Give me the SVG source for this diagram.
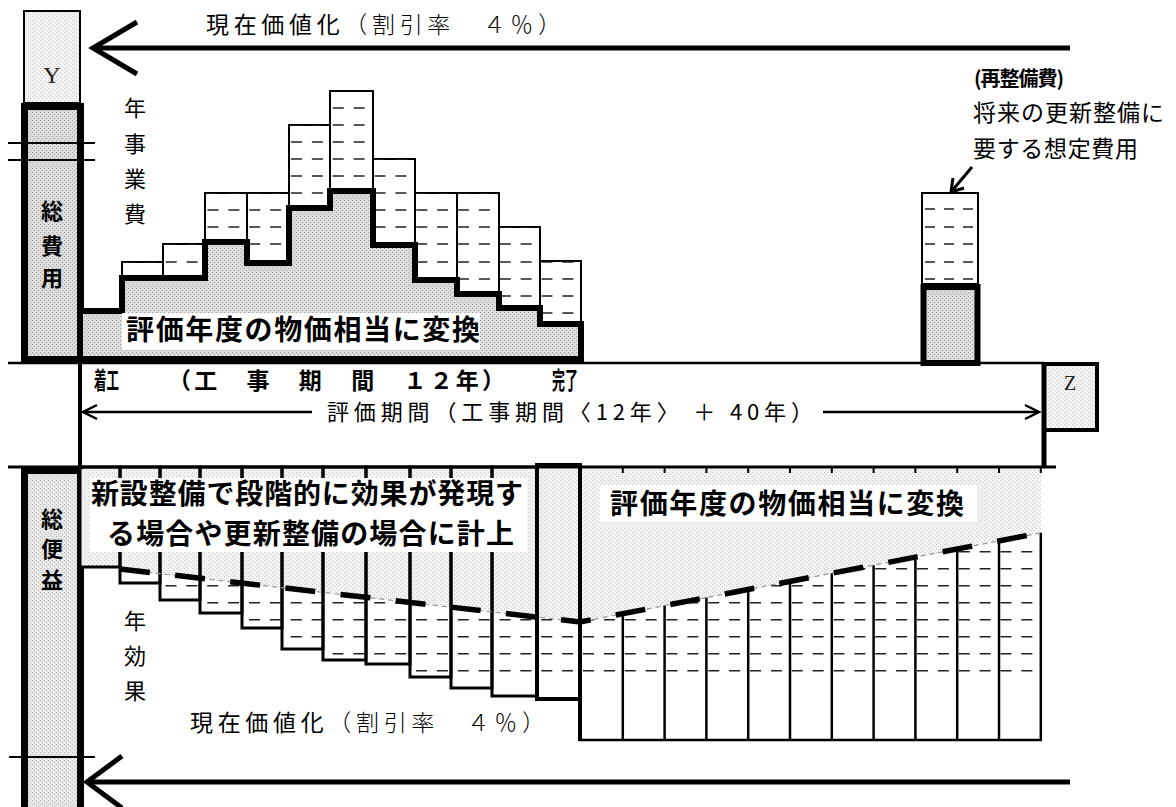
<svg xmlns="http://www.w3.org/2000/svg" width="1176" height="807" viewBox="0 0 1176 807">
<style>
.t{font-family:"Noto Sans CJK JP","Noto Sans",sans-serif;fill:#000}
.b{font-weight:bold}
.s{font-family:"Liberation Serif","DejaVu Serif",serif;fill:#222}
.ln{stroke:#000;fill:none}
.box{stroke:#000;stroke-width:2;fill:#fff}
.bar{stroke:#000;stroke-width:3;fill:none}
.dash{stroke:#222;stroke-width:1.6;stroke-dasharray:11 9.875;fill:none}
</style>
<defs>
<pattern id="pd" width="4" height="4" patternUnits="userSpaceOnUse"><rect width="4" height="4" fill="#dcdcdc"/><rect width="1" height="1" fill="#a0a0a0"/><rect x="2" y="2" width="1" height="1" fill="#a0a0a0"/></pattern>
<pattern id="pl" width="4" height="4" patternUnits="userSpaceOnUse"><rect width="4" height="4" fill="#f3f3f3"/><rect width="1" height="1" fill="#c6c6c6"/><rect x="2" y="2" width="1" height="1" fill="#c6c6c6"/></pattern>
<pattern id="pm" width="4" height="4" patternUnits="userSpaceOnUse"><rect width="4" height="4" fill="#e8e8e8"/><rect width="1" height="1" fill="#b4b4b4"/><rect x="2" y="2" width="1" height="1" fill="#b4b4b4"/></pattern>
<clipPath id="topClip">
<rect x="122" y="262" width="41" height="97"/><rect x="163" y="244" width="42" height="115"/><rect x="205" y="193" width="42" height="166"/><rect x="247" y="193" width="42" height="166"/><rect x="289" y="125" width="41" height="234"/><rect x="330" y="91" width="43" height="268"/><rect x="373" y="159" width="42" height="200"/><rect x="415" y="193" width="42" height="166"/><rect x="457" y="193" width="42" height="166"/><rect x="499" y="227" width="41" height="132"/><rect x="540" y="261" width="41" height="98"/>
</clipPath>
<clipPath id="lowClip">
<rect x="80" y="467" width="40" height="100"/><rect x="120" y="467" width="40" height="116"/><rect x="160" y="467" width="40" height="133"/><rect x="200" y="467" width="42" height="146"/><rect x="242" y="467" width="40" height="161"/><rect x="282" y="467" width="41" height="182"/><rect x="323" y="467" width="43" height="193"/><rect x="366" y="467" width="44" height="197"/><rect x="410" y="467" width="41" height="210"/><rect x="451" y="467" width="41" height="221"/><rect x="492" y="467" width="45" height="229"/><rect x="537" y="467" width="43" height="232"/><rect x="580" y="467" width="461" height="273"/>
</clipPath>
</defs>
<rect width="1176" height="807" fill="#fff"/>

<!-- left boxes -->
<g id="Y">
<rect x="24" y="11" width="56" height="92" fill="url(#pl)" stroke="#000" stroke-width="2"/>
<text class="s" x="52" y="83" font-size="24" text-anchor="middle">Y</text>
</g>
<g id="total-cost">
<rect x="24.5" y="106.5" width="56" height="253" fill="url(#pd)" stroke="#000" stroke-width="7"/>
<line class="ln" x1="8" y1="143" x2="95" y2="143" stroke-width="2"/>
<line class="ln" x1="8" y1="160" x2="95" y2="160" stroke-width="2"/>
<text class="t b" font-size="22" text-anchor="middle" fill="#333"><tspan x="52" y="219">総</tspan><tspan x="52" y="254">費</tspan><tspan x="52" y="286">用</tspan></text>
</g>
<g id="total-benefit">
<rect x="24.5" y="470.5" width="56" height="345" fill="url(#pm)" stroke="#000" stroke-width="7"/>
<line class="ln" x1="9" y1="757" x2="95" y2="757" stroke-width="2"/>
<text class="t b" font-size="22" text-anchor="middle" fill="#333"><tspan x="52" y="527">総</tspan><tspan x="52" y="557">便</tspan><tspan x="52" y="588">益</tspan></text>
</g>

<!-- upper cost bars -->
<g id="annual-cost">
<g>
<rect class="box" x="122" y="262" width="41" height="97"/><rect class="box" x="163" y="244" width="42" height="115"/><rect class="box" x="205" y="193" width="42" height="166"/><rect class="box" x="247" y="193" width="42" height="166"/><rect class="box" x="289" y="125" width="41" height="234"/><rect class="box" x="330" y="91" width="43" height="268"/><rect class="box" x="373" y="159" width="42" height="200"/><rect class="box" x="415" y="193" width="42" height="166"/><rect class="box" x="457" y="193" width="42" height="166"/><rect class="box" x="499" y="227" width="41" height="132"/><rect class="box" x="540" y="261" width="41" height="98"/>
</g>
<g clip-path="url(#topClip)">
<path class="dash" d="M124 108H581M124 125H581M124 142H581M124 159H581M124 176H581M124 193H581M124 210H581M124 227H581M124 244H581M124 262H581M124 279H581M124 296H581M124 313H581"/>
</g>
<path d="M80 311H122V278H205V242H247V263H289V208H330V191H373V245H415V280H457V294H499V308H540V324H581V359H80Z" fill="url(#pd)" stroke="#000" stroke-width="6"/>
<rect x="122" y="313" width="358" height="37" fill="#fff"/>
<text class="t b" x="126" y="340" font-size="28" textLength="354" lengthAdjust="spacing">評価年度の物価相当に変換</text>
<text class="t" font-size="22" text-anchor="middle"><tspan x="135" y="116">年</tspan><tspan x="135" y="152">事</tspan><tspan x="135" y="187">業</tspan><tspan x="135" y="222">費</tspan></text>
</g>

<!-- rebuild cost -->
<g id="rebuild">
<rect class="box" x="922" y="193" width="56" height="91"/>
<path class="dash" d="M925 209H978M925 227H978M925 244H978M925 262H978M925 279H978" style="stroke-dasharray:10 9"/>
<rect x="923.5" y="287" width="54" height="76" fill="url(#pd)" stroke="#000" stroke-width="6"/>
<text class="t b" x="974" y="86" font-size="20" textLength="90" lengthAdjust="spacing">(再整備費)</text>
<text class="t" x="973" y="121" font-size="23" textLength="191" lengthAdjust="spacing">将来の更新整備に</text>
<text class="t" x="973" y="157" font-size="23" textLength="165" lengthAdjust="spacing">要する想定費用</text>
</g>

<!-- lower benefit bars -->
<g id="annual-benefit">
<g clip-path="url(#lowClip)">
<path class="dash" d="M82 551.7H1041M82 568.7H1041M82 585.7H1041M82 602.7H1041M82 619.7H1041M82 636.7H1041M82 653.7H1041M82 670.7H1041"/>
</g>
<path d="M80 469H1041V532.8L580 622L120 570V567H80Z" fill="url(#pl)"/>
<path class="ln" stroke-width="2.5" d="M622.8 613.7V740M664.6 605.6V740M706.4 597.5V740M748.2 589.5V740M790 581.4V740M831.8 573.3V740M873.6 565.2V740M915.4 557.1V740M957.2 549V740M999 540.9V740M1040.8 532.8V740M580 740H1042"/>
<path class="ln" stroke-width="2" d="M622.8 467V473M664.6 467V473M706.4 467V473M748.2 467V473M790 467V473M831.8 467V473M873.6 467V473M915.4 467V473M957.2 467V473M999 467V473M1040.8 467V473"/>
<g>
<rect class="bar" x="80" y="467" width="40" height="100"/><rect class="bar" x="120" y="467" width="40" height="116"/><rect class="bar" x="160" y="467" width="40" height="133"/><rect class="bar" x="200" y="467" width="42" height="146"/><rect class="bar" x="242" y="467" width="40" height="161"/><rect class="bar" x="282" y="467" width="41" height="182"/><rect class="bar" x="323" y="467" width="43" height="193"/><rect class="bar" x="366" y="467" width="44" height="197"/><rect class="bar" x="410" y="467" width="41" height="210"/><rect class="bar" x="451" y="467" width="41" height="221"/><rect class="bar" x="492" y="467" width="45" height="229"/>
<rect x="537" y="465" width="43" height="234" fill="none" stroke="#000" stroke-width="4"/>
<line class="ln" x1="580" y1="465" x2="580" y2="741" stroke-width="4"/>
</g>
<rect x="90" y="478" width="437" height="74" fill="#fff"/>
<text class="t b" x="91" y="504" font-size="28" textLength="432" lengthAdjust="spacing">新設整備で段階的に効果が発現す</text>
<text class="t b" x="107" y="544" font-size="28" textLength="407" lengthAdjust="spacing">る場合や更新整備の場合に計上</text>
<rect x="600" y="485" width="377" height="37" fill="#fff"/>
<text class="t b" x="610" y="514" font-size="28" textLength="354" lengthAdjust="spacing">評価年度の物価相当に変換</text>
<polyline points="120,569 580,622 1040,533" fill="none" stroke="#999" stroke-width="1.2" stroke-dasharray="5 4"/>
<polyline points="120,569 580,622 1040,533" fill="none" stroke="#000" stroke-width="5.5" stroke-dasharray="30 25.5"/>
<text class="t" font-size="22" text-anchor="middle"><tspan x="135" y="629">年</tspan><tspan x="135" y="664">効</tspan><tspan x="135" y="699">果</tspan></text>
</g>

<!-- Z -->
<g id="Z">
<rect x="1044" y="364" width="53" height="66" fill="url(#pl)" stroke="#000" stroke-width="4"/>
<text class="s" x="1070" y="390" font-size="20" text-anchor="middle">Z</text>
</g>

<!-- connectors / axes -->
<g id="connectors">
<line class="ln" x1="80" y1="103" x2="80" y2="467" stroke-width="4"/>
<line class="ln" x1="8" y1="363" x2="1044" y2="363" stroke-width="2.5"/>
<line class="ln" x1="8" y1="467" x2="1056" y2="467" stroke-width="3"/>
<line class="ln" x1="1044" y1="362" x2="1044" y2="468" stroke-width="5"/>
<line class="ln" x1="94" y1="48" x2="1070" y2="48" stroke-width="5"/>
<polyline class="ln" points="137,22 93,48 137,74" stroke-width="5"/>
<line class="ln" x1="88" y1="782" x2="1070" y2="782" stroke-width="5"/>
<polyline class="ln" points="122,756 87,782 122,808" stroke-width="5"/>
<line class="ln" x1="83" y1="412" x2="312" y2="412" stroke-width="2.5"/>
<line class="ln" x1="823" y1="412" x2="1039" y2="412" stroke-width="2.5"/>
<polyline class="ln" points="97,405 83,412 97,419" stroke-width="2.5"/>
<polyline class="ln" points="1025,405 1039,412 1025,419" stroke-width="2.5"/>
<line class="ln" x1="972" y1="167" x2="951" y2="192" stroke-width="3"/>
<polyline class="ln" points="964,188 951,192 953,178" stroke-width="3"/>
</g>

<!-- texts -->
<g id="labels">
<text class="t" x="206" y="33" font-size="23" textLength="355" lengthAdjust="spacing">現在価値化<tspan font-weight="300">（割引率　４％）</tspan></text>
<text class="t" x="190" y="731" font-size="23" textLength="355" lengthAdjust="spacing">現在価値化<tspan font-weight="300">（割引率　４％）</tspan></text>
<text class="t b" x="94" y="389" font-size="24" textLength="25" lengthAdjust="spacingAndGlyphs">着工</text>
<text class="t b" x="168" y="389" font-size="23" textLength="337" lengthAdjust="spacing">（工　事　期　間　１２年）</text>
<text class="t b" x="552" y="389" font-size="24" textLength="26" lengthAdjust="spacingAndGlyphs">完了</text>
<text class="t" x="327" y="420" font-size="22" textLength="486" lengthAdjust="spacing" fill="#222">評価期間（工事期間〈12年〉 ＋ 40年）</text>
</g>
</svg>
